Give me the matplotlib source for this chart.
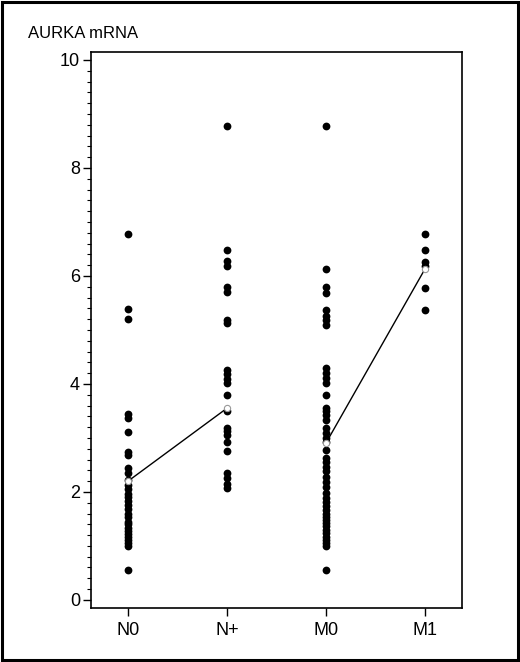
import matplotlib
matplotlib.use("Agg")
import matplotlib.pyplot as plt
from matplotlib.patches import Rectangle
from matplotlib.ticker import MultipleLocator

plt.rcParams['font.family'] = ['Liberation Sans', 'DejaVu Sans']

# groups on the x axis
groups = ['N0', 'N+', 'M0', 'M1']

# AURKA mRNA values per group
n0_values = [6.78, 5.39, 5.21, 3.44, 3.37, 3.11, 2.74, 2.68, 2.44, 2.35, 2.22,
             2.13, 2.05, 1.97, 1.90, 1.83, 1.76, 1.68, 1.60, 1.53, 1.45, 1.40,
             1.34, 1.28, 1.22, 1.16, 1.10, 1.05, 0.99, 0.56]
nplus_values = [8.78, 6.48, 6.27, 6.18, 5.80, 5.71, 5.19, 5.12, 4.26, 4.18,
                4.10, 4.02, 3.80, 3.49, 3.18, 3.12, 3.05, 2.93, 2.75, 2.35,
                2.25, 2.15, 2.08]
m0_values = [8.78, 6.12, 5.79, 5.68, 5.37, 5.26, 5.19, 5.09, 4.29, 4.20, 4.11,
             4.02, 3.80, 3.55, 3.49, 3.43, 3.33, 3.18, 3.10, 2.99, 2.93, 2.78,
             2.62, 2.56, 2.47, 2.38, 2.28, 2.19, 2.10, 1.98, 1.88, 1.82, 1.73,
             1.66, 1.60, 1.54, 1.48, 1.42, 1.36, 1.30, 1.23, 1.17, 1.11, 1.05,
             0.99, 0.56]
m1_values = [6.78, 6.48, 6.25, 6.18, 5.77, 5.37]

# group centres joined by the lines (N0 -> N+, M0 -> M1)
group_means = [2.20, 3.55, 2.90, 6.12]

all_values = [n0_values, nplus_values, m0_values, m1_values]

fig = plt.figure(figsize=(5.2, 6.62), dpi=100)
ax = fig.add_axes([0.175, 0.0816, 0.713, 0.840])

# dots for every group
for i, vals in enumerate(all_values):
    ax.plot([i] * len(vals), vals, 'o', color='black', markersize=5.6,
            markeredgewidth=0, zorder=2)

# lines between the group centres, in pairs
for pair in [(0, 1), (2, 3)]:
    ax.plot(list(pair), [group_means[p] for p in pair], color='black',
            linewidth=1.0, zorder=3)
    ax.plot(list(pair), [group_means[p] for p in pair], 'o', markersize=4.5,
            markerfacecolor='white', markeredgecolor='#999999',
            markeredgewidth=0.8, zorder=4)

ax.set_xlim(-0.375, 3.375)
ax.set_ylim(-0.15, 10.15)
ax.set_xticks(range(len(groups)))
ax.set_xticklabels(groups, fontsize=13)
ax.yaxis.set_major_locator(MultipleLocator(2))
ax.yaxis.set_minor_locator(MultipleLocator(0.2))
ax.tick_params(axis='y', which='major', direction='out', length=6, width=1,
               labelsize=13, pad=2)
ax.tick_params(axis='y', which='minor', direction='out', length=3, width=0.8)
ax.tick_params(axis='x', which='major', direction='out', length=6, width=1,
               pad=4)
ax.tick_params(top=False, right=False)
for spine in ax.spines.values():
    spine.set_linewidth(1.2)

fig.text(0.054, 0.950, 'AURKA mRNA', fontsize=12, ha='left', va='center')

# frame round the whole figure
fig.patches.append(Rectangle((0.003, 0.003), 0.994, 0.994, fill=False,
                             edgecolor='black', linewidth=2.2,
                             transform=fig.transFigure, figure=fig))

fig.savefig('out.png', dpi=100)
